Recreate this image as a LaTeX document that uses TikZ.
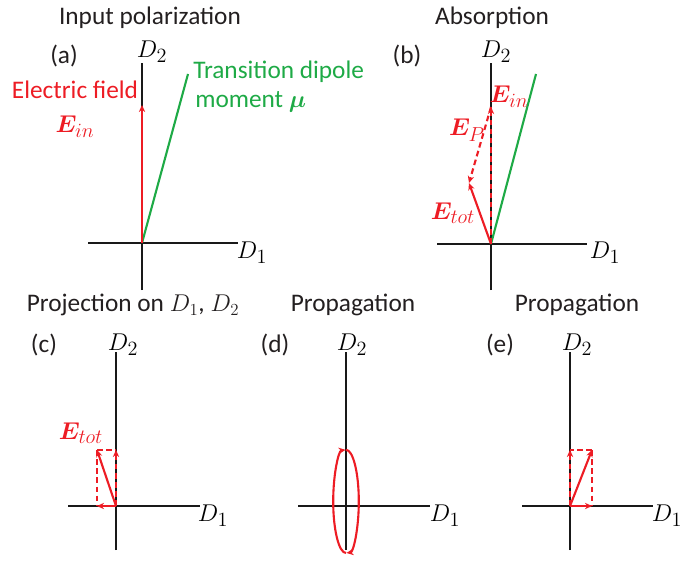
\documentclass[tikz,border=0pt]{standalone}
\usepackage{amsmath,bm}
\usepackage{fontspec}
\setmainfont{Carlito}
\usetikzlibrary{arrows.meta}

\definecolor{efield}{RGB}{237,28,36}
\definecolor{dipole}{RGB}{30,170,70}
\definecolor{inktext}{RGB}{35,31,32}

\tikzset{
  axis/.style={line width=1.6pt, draw=black!90},
  axlabel/.style={font=\fontsize{19}{22}\selectfont, inner sep=0pt},
  heading/.style={font=\fontsize{18}{21}\selectfont, text=inktext, inner sep=0pt},
  tag/.style={font=\fontsize{18}{21}\selectfont, text=inktext, inner sep=0pt},
  field/.style={line width=1.5pt, draw=efield, -{Stealth[length=5pt,width=4.5pt]}},
  fieldlbl/.style={font=\fontsize{19}{22}\selectfont, text=efield, inner sep=0pt},
  proj/.style={line width=0.9pt, draw=efield, dash pattern=on 4pt off 2.5pt},
  moment/.style={line width=1.5pt, draw=dipole}
}

\begin{document}
\begin{tikzpicture}

  \useasboundingbox (0,0) rectangle (17.35,14.075);

  % -- (a) input polarization --
  \coordinate (oa) at (3.55,8.0);
  \coordinate (oaT) at (3.55,12.5);
  \coordinate (oaB) at (3.55,6.825);
  \coordinate (oaL) at (2.2,8.0);
  \coordinate (oaR) at (5.95,8.0);
  \coordinate (ina) at (3.55,11.45);
  \coordinate (mua) at (4.7,12.225);
  \draw[axis] (oaB) -- (oaT);
  \draw[axis] (oaL) -- (oaR);
  \node[axlabel] (d1a) at (6.3,7.75) {$D_1$};
  \node[axlabel] (d2a) at (3.8,12.775) {$D_2$};
  \node[tag] (taga) at (1.6,12.675) {(a)};
  \node[heading] (ttla) at (3.75,13.625) {Input polarization};
  \draw[moment] (oa) -- (mua);
  \draw[field] (oa) -- (ina);
  \node[fieldlbl, font=\fontsize{18}{21}\selectfont] (efa) at (1.875,11.825) {Electric field};
  \node[fieldlbl] (eina) at (1.875,10.9) {$\bm{E}_{in}$};
  \node[heading, text=dipole, anchor=west] (tda) at (4.825,12.275) {Transition dipole};
  \node[heading, text=dipole, anchor=west] (mma) at (4.875,11.525) {moment $\bm{\mu}$};

  % -- (b) absorption --
  \coordinate (ob) at (12.275,7.975);
  \coordinate (obT) at (12.275,12.5);
  \coordinate (obB) at (12.275,6.825);
  \coordinate (obL) at (10.925,7.975);
  \coordinate (obR) at (14.675,7.975);
  \coordinate (inb) at (12.275,11.4);
  \coordinate (totb) at (11.725,9.5);
  \coordinate (mub) at (13.4,12.225);
  \draw[axis] (obB) -- (obT);
  \draw[axis] (obL) -- (obR);
  \node[axlabel] (d1b) at (15.125,7.75) {$D_1$};
  \node[axlabel] (d2b) at (12.4,12.775) {$D_2$};
  \node[tag] (tagb) at (10.175,12.675) {(b)};
  \node[heading] (ttlb) at (12.3,13.625) {Absorption};
  \draw[moment] (ob) -- (mub);
  \draw[field, dash pattern=on 4pt off 2.5pt] (ob) -- (inb);
  \draw[field, dash pattern=on 4pt off 2.5pt] (inb) -- (totb);
  \draw[field] (ob) -- (totb);
  \node[fieldlbl] (einb) at (12.725,11.65) {$\bm{E}_{in}$};
  \node[fieldlbl] (epb) at (11.675,10.825) {$\bm{E}_{P}$};
  \node[fieldlbl] (etotb) at (11.325,8.75) {$\bm{E}_{tot}$};

  % -- (c) projection --
  \coordinate (oc) at (2.9,1.425);
  \coordinate (ocT) at (2.9,5.275);
  \coordinate (ocB) at (2.9,0.325);
  \coordinate (ocL) at (1.7,1.425);
  \coordinate (ocR) at (5.0,1.425);
  \coordinate (totc) at (2.425,2.825);
  \coordinate (yc) at (2.9,2.825);
  \coordinate (xc) at (2.425,1.425);
  \draw[axis] (ocB) -- (ocT);
  \draw[axis] (ocL) -- (ocR);
  \node[axlabel] (d1c) at (5.325,1.175) {$D_1$};
  \node[axlabel] (d2c) at (3.075,5.45) {$D_2$};
  \node[tag] (tagc) at (1.1,5.45) {(c)};
  \node[heading] (ttlc) at (3.325,6.45) {Projection on $D_1$, $D_2$};
  \draw[proj] (totc) -- (yc);
  \draw[proj] (totc) -- (xc);
  \draw[field, dash pattern=on 4pt off 2.5pt] (oc) -- (yc);
  \draw[field] (oc) -- (xc);
  \draw[field] (oc) -- (totc);
  \node[fieldlbl] (etotc) at (2.025,3.25) {$\bm{E}_{tot}$};

  % -- (d) propagation, ellipse --
  \coordinate (od) at (8.65,1.425);
  \coordinate (odT) at (8.65,5.275);
  \coordinate (odB) at (8.65,0.325);
  \coordinate (odL) at (7.45,1.425);
  \coordinate (odR) at (10.75,1.425);
  \coordinate (eld) at (8.65,1.54);
  \draw[axis] (odB) -- (odT);
  \draw[axis] (odL) -- (odR);
  \node[axlabel] (d1d) at (11.125,1.175) {$D_1$};
  \node[axlabel] (d2d) at (8.8,5.45) {$D_2$};
  \node[tag] (tagd) at (6.875,5.45) {(d)};
  \node[heading] (ttld) at (8.825,6.45) {Propagation};
  \draw[field] (eld) ++(0,-1.29) arc[start angle=270, end angle=92, x radius=0.32, y radius=1.29];
  \draw[field] (eld) ++(0,1.29) arc[start angle=90, end angle=-88, x radius=0.32, y radius=1.29];

  % -- (e) propagation, linear --
  \coordinate (oe) at (14.25,1.425);
  \coordinate (oeT) at (14.25,5.275);
  \coordinate (oeB) at (14.25,0.325);
  \coordinate (oeL) at (13.05,1.425);
  \coordinate (oeR) at (16.325,1.425);
  \coordinate (tote) at (14.8,2.825);
  \coordinate (ye) at (14.25,2.825);
  \coordinate (xe) at (14.8,1.425);
  \draw[axis] (oeB) -- (oeT);
  \draw[axis] (oeL) -- (oeR);
  \node[axlabel] (d1e) at (16.675,1.175) {$D_1$};
  \node[axlabel] (d2e) at (14.425,5.45) {$D_2$};
  \node[tag] (tage) at (12.5,5.45) {(e)};
  \node[heading] (ttle) at (14.425,6.45) {Propagation};
  \draw[proj] (tote) -- (ye);
  \draw[proj] (tote) -- (xe);
  \draw[field, dash pattern=on 4pt off 2.5pt] (oe) -- (ye);
  \draw[field] (oe) -- (xe);
  \draw[field] (oe) -- (tote);

\end{tikzpicture}
\end{document}
